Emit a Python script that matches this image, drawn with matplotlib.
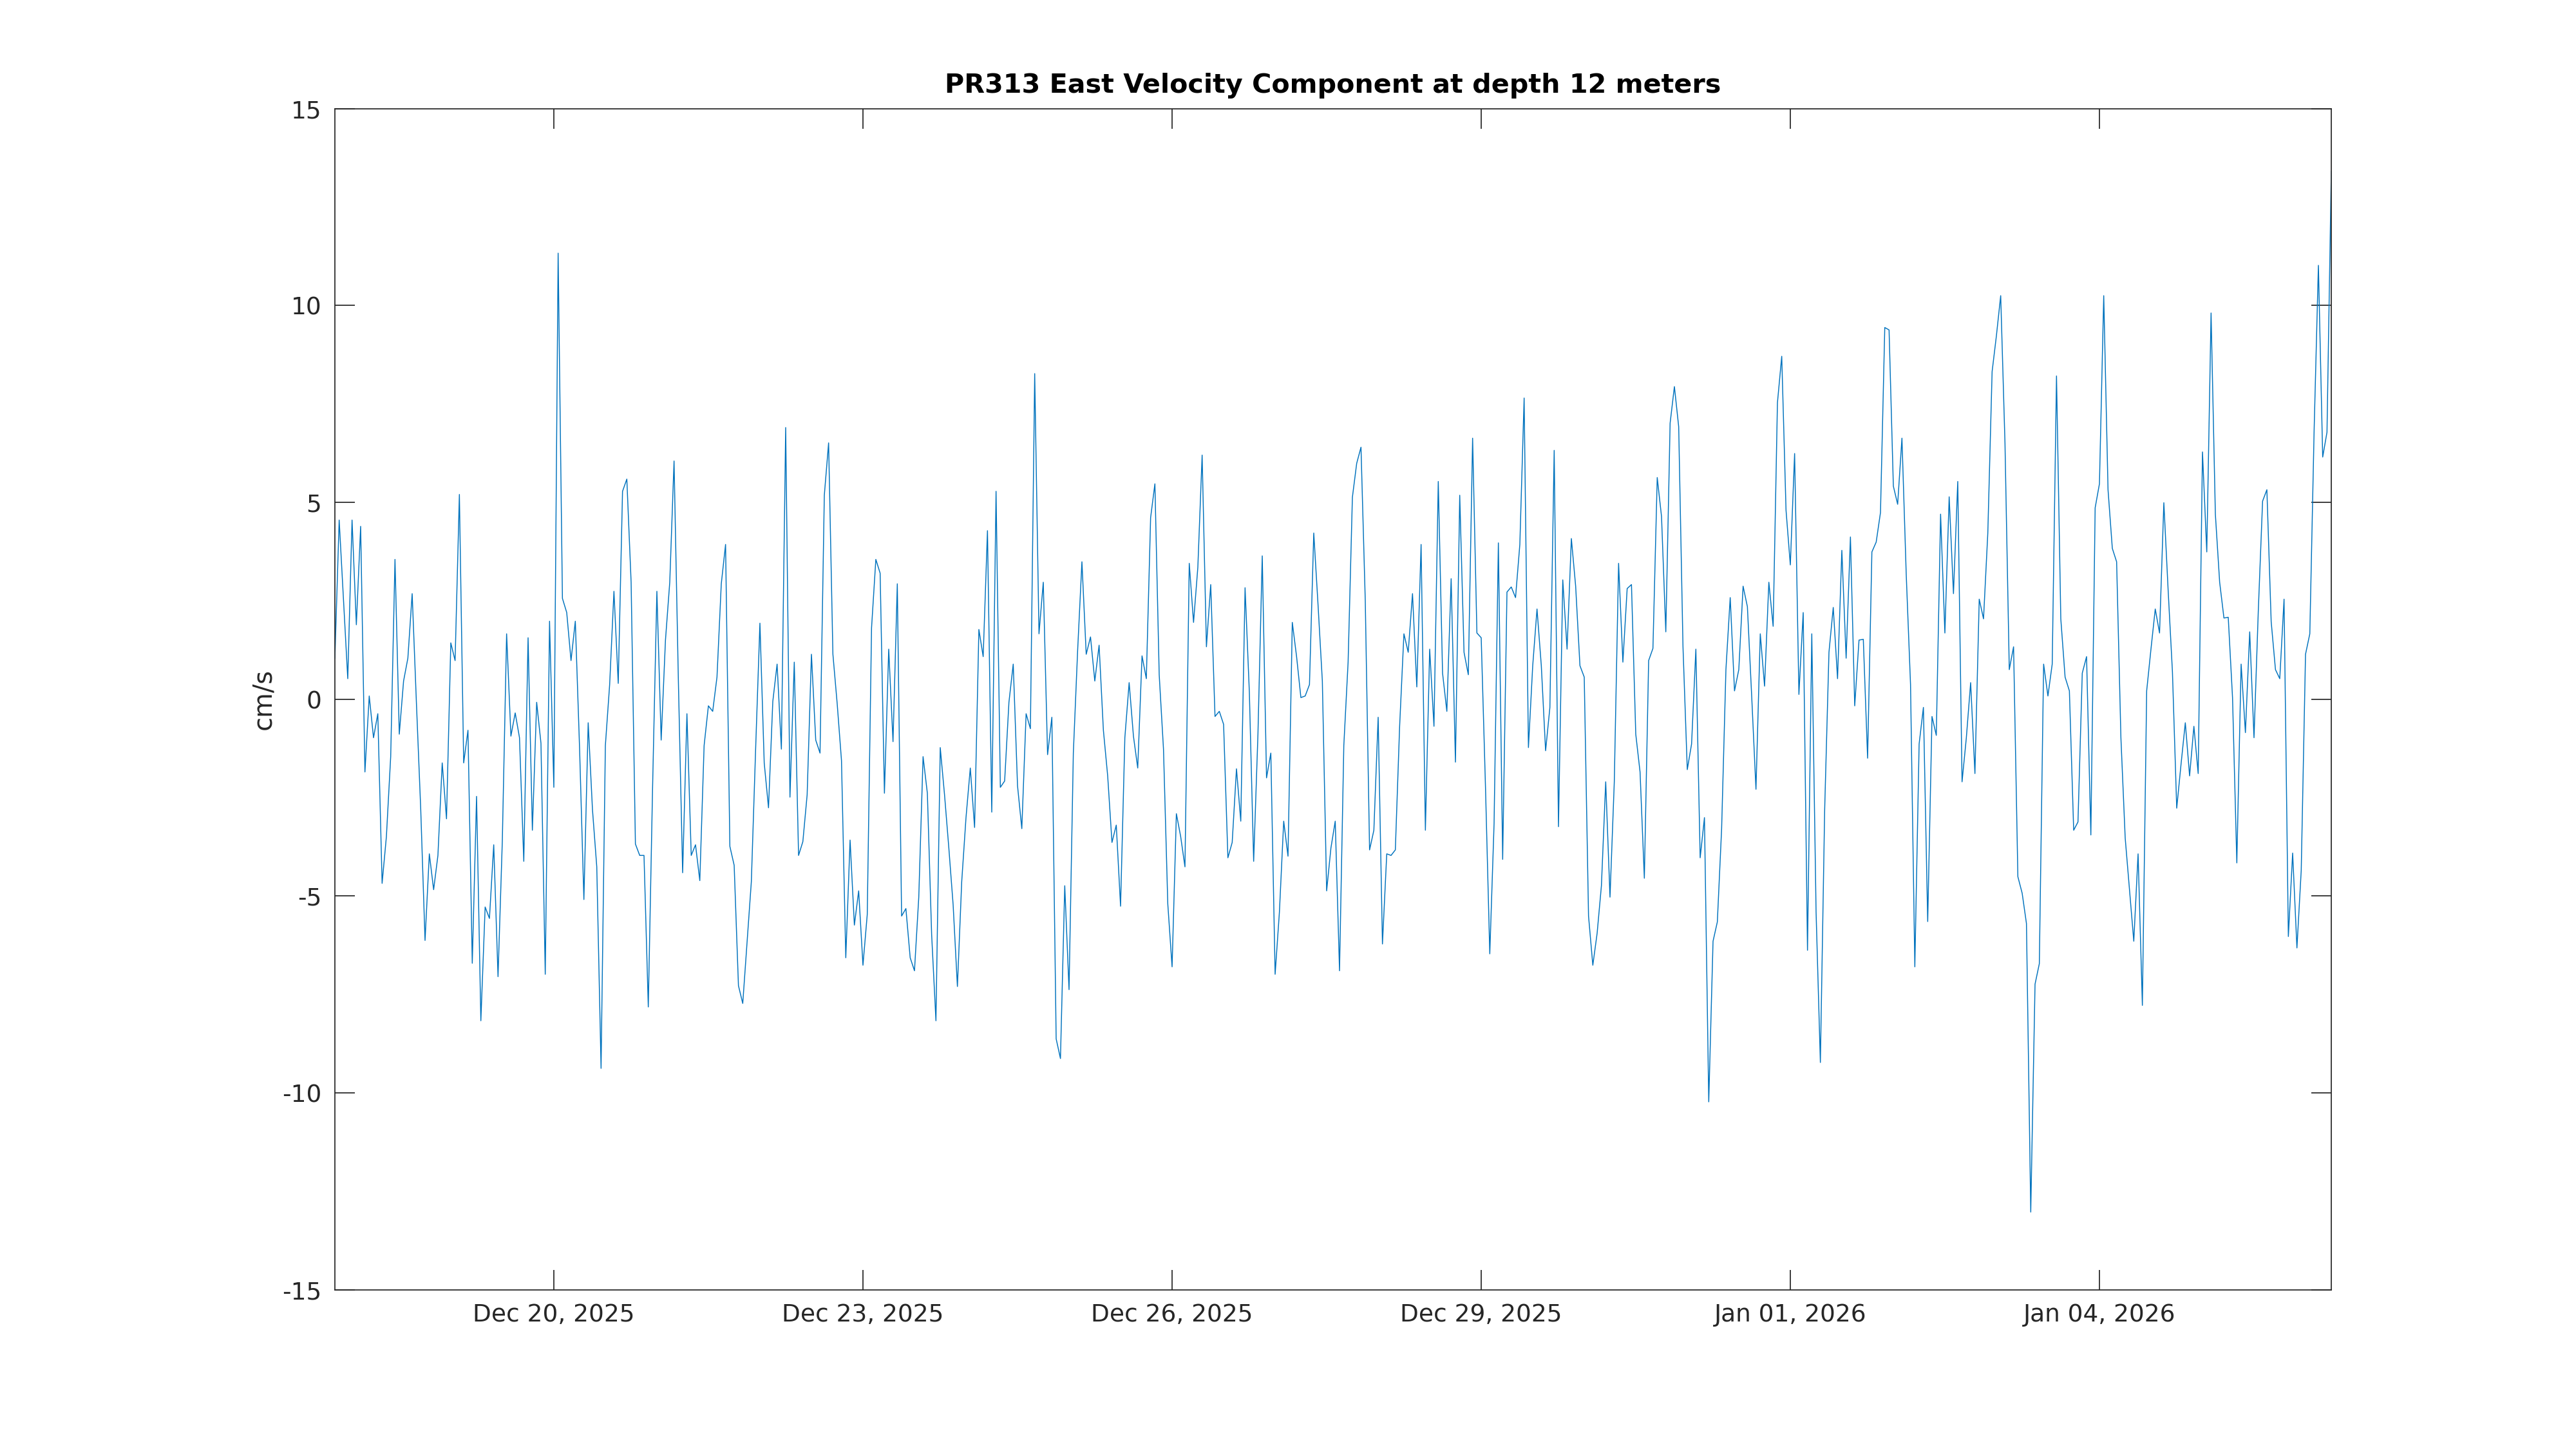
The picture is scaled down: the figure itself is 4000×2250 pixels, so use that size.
import numpy as np
import pandas as pd
import matplotlib
matplotlib.use('Agg')
import matplotlib.pyplot as plt

plt.rcParams.update({'font.family': 'DejaVu Sans', 'font.size': 10,
                     'axes.unicode_minus': False})

# hourly samples, starting Dec 17 2025 21:00
START = '2025-12-17 21:00'
east_vel = [
    1.04, 4.55, 2.54, 0.52, 4.55, 1.89, 4.39, -1.85, 0.08, -0.98,
    -0.37, -4.68, -3.49, -1.46, 3.55, -0.89, 0.46, 1.04, 2.68, -0.12,
    -2.81, -6.13, -3.93, -4.84, -3.97, -1.62, -3.04, 1.43, 0.98, 5.20,
    -1.62, -0.79, -6.71, -2.47, -8.17, -5.28, -5.57, -3.70, -7.05,
    -3.60, 1.66, -0.94, -0.35, -0.98, -4.12, 1.56, -3.33, -0.08, -1.12,
    -6.99, 1.98, -2.24, 11.33, 2.56, 2.20, 0.98, 1.98, -1.27, -5.09,
    -0.60, -2.81, -4.26, -9.38, -1.18, 0.37, 2.74, 0.40, 5.28, 5.59,
    2.97, -3.68, -3.97, -3.97, -7.82, -2.24, 2.74, -1.04, 1.50,
    2.97, 6.05, 0.50, -4.41, -0.37, -3.97, -3.70, -4.61, -1.18, -0.17,
    -0.31, 0.56, 2.93, 3.93, -3.74, -4.22, -7.28, -7.73, -6.18, -4.64,
    -1.27, 1.93, -1.62, -2.76, -0.06, 0.89, -1.27, 6.90, -2.49, 0.94,
    -3.97, -3.62, -2.43, 1.14, -1.04, -1.37, 5.18, 6.51, 1.14,
    -0.12, -1.56, -6.57, -3.58, -5.74, -4.87, -6.76, -5.47, 1.81, 3.55,
    3.20, -2.39, 1.27, -1.08, 2.93, -5.51, -5.32, -6.57, -6.90, -5.03,
    -1.46, -2.39, -5.99, -8.17, -1.23, -2.43, -3.78, -5.22, -7.30, -4.64,
    -3.01, -1.75, -3.26, 1.77, 1.08, 4.28, -2.87, 5.28, -2.24,
    -2.08, -0.08, 0.89, -2.20, -3.29, -0.37, -0.75, 8.27, 1.66, 2.97,
    -1.41, -0.46, -8.63, -9.13, -4.74, -7.38, -1.37, 1.23, 3.49, 1.14,
    1.58, 0.46, 1.37, -0.79, -1.95, -3.64, -3.20, -5.26, -0.98, 0.42,
    -0.94, -1.75, 1.10, 0.52, 4.61, 5.47, 0.62, -1.27, -5.20,
    -6.80, -2.91, -3.49, -4.26, 3.45, 1.95, 3.35, 6.20, 1.33, 2.91,
    -0.44, -0.31, -0.64, -4.03, -3.64, -1.77, -3.10, 2.83, 0.17, -4.12,
    -0.89, 3.64, -2.00, -1.37, -6.99, -5.41, -3.10, -3.99, 1.95, 1.08,
    0.04, 0.08, 0.37, 4.22, 2.39, 0.46, -4.87, -3.78, -3.10,
    -6.90, -1.18, 0.94, 5.13, 5.99, 6.40, 2.49, -3.83, -3.33, -0.46,
    -6.22, -3.93, -3.97, -3.83, -0.69, 1.66, 1.19, 2.68, 0.31, 3.93,
    -3.33, 1.27, -0.69, 5.53, 0.66, -0.31, 3.06, -1.60, 5.18, 1.19,
    0.62, 6.63, 1.68, 1.56, -2.24, -6.47, -3.16, 3.97, -4.07,
    2.72, 2.85, 2.58, 3.93, 7.65, -1.23, 0.85, 2.29, 0.85, -1.31,
    -0.21, 6.32, -3.24, 3.03, 1.27, 4.08, 2.87, 0.85, 0.56, -5.51,
    -6.76, -5.95, -4.74, -2.10, -5.03, -2.10, 3.45, 0.94, 2.81, 2.91,
    -0.89, -1.85, -4.55, 0.98, 1.29, 5.63, 4.64, 1.71, 7.01,
    7.94, 6.92, 1.33, -1.79, -1.14, 1.27, -4.03, -3.01, -10.23, -6.15,
    -5.66, -3.29, 0.75, 2.58, 0.21, 0.75, 2.87, 2.35, 0.08, -2.29,
    1.66, 0.33, 2.97, 1.85, 7.53, 8.71, 4.80, 3.41, 6.24, 0.12,
    2.20, -6.38, 1.66, -5.41, -9.23, -2.81, 1.19, 2.33, 0.52,
    3.78, 1.04, 4.12, -0.17, 1.50, 1.52, -1.50, 3.74, 3.99, 4.74,
    9.44, 9.38, 5.41, 4.95, 6.63, 3.16, 0.37, -6.80, -1.14, -0.21,
    -5.65, -0.44, -0.92, 4.70, 1.68, 5.14, 2.68, 5.53, -2.10, -0.98,
    0.42, -1.89, 2.54, 2.04, 4.22, 8.32, 9.23, 10.25, 6.50,
    0.75, 1.33, -4.51, -4.93, -5.70, -13.03, -7.24, -6.72, 0.89, 0.08,
    0.89, 8.21, 2.04, 0.56, 0.21, -3.33, -3.12, 0.66, 1.08, -3.45,
    4.86, 5.47, 10.25, 5.32, 3.83, 3.49, -0.98, -3.53, -4.84, -6.15,
    -3.93, -7.78, 0.21, 1.27, 2.29, 1.68, 4.99, 2.77, 0.70,
    -2.77, -1.66, -0.60, -1.95, -0.69, -1.89, 6.28, 3.74, 9.81, 4.70,
    2.97, 2.06, 2.08, 0.04, -4.16, 0.89, -0.85, 1.71, -0.98, 2.24,
    5.03, 5.32, 1.97, 0.75, 0.52, 2.54, -6.03, -3.91, -6.32, -4.35,
    1.14, 1.66, 6.82, 11.02, 6.15, 6.78, 13.41,
]
tick_dates = ['2025-12-20', '2025-12-23', '2025-12-26', '2025-12-29',
              '2026-01-01', '2026-01-04']
tick_labels = ['Dec 20, 2025', 'Dec 23, 2025', 'Dec 26, 2025', 'Dec 29, 2025',
               'Jan 01, 2026', 'Jan 04, 2026']
yticks = [-15, -10, -5, 0, 5, 10, 15]

t = pd.date_range(START, periods=len(east_vel), freq='h')
AX = '#262626'

fig = plt.figure(figsize=(16, 9), dpi=250)
ax = fig.add_axes([0.13, 0.11, 0.775, 0.815])
ax.plot(t, east_vel, color='#0072BD', lw=0.42)
ax.set_xlim(t[0], t[-1])
ax.set_ylim(-15, 15)
ax.set_xticks(pd.to_datetime(tick_dates))
ax.set_xticklabels(tick_labels)
ax.set_yticks(yticks)
ax.set_yticklabels([str(v) for v in yticks])
ax.tick_params(direction='in', length=8.9, width=0.5, top=True, right=True,
               colors=AX, labelsize=10.8, pad=6)
for s in ax.spines.values():
    s.set_color(AX); s.set_linewidth(0.5)
ax.set_ylabel('cm/s', color=AX, fontsize=11.5, labelpad=2.5)
ax.set_title('PR313 East Velocity Component at depth 12 meters',
             fontsize=11.9, fontweight='bold', pad=7)
fig.savefig('out.png', dpi=250)
